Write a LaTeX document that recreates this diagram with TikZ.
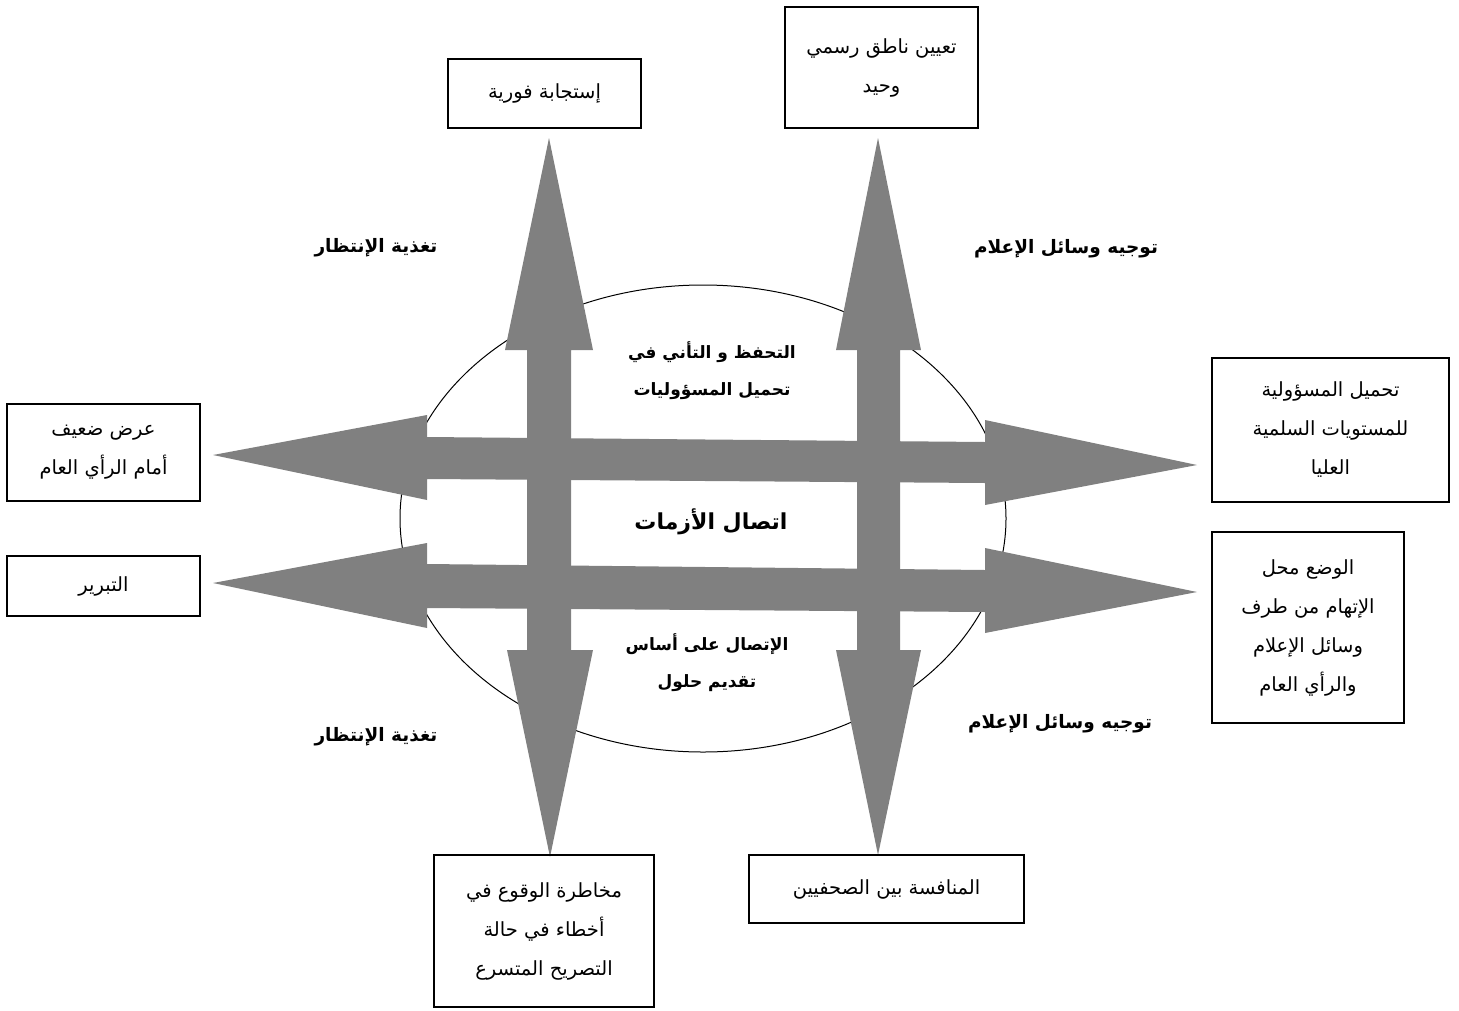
\documentclass[tikz,border=0pt]{standalone}
\usepackage{fontspec}
\usetikzlibrary{shapes.geometric}
\TeXXeTstate=1
\newfontfamily\arabicfont[Script=Arabic]{DejaVu Sans}
\newcommand{\ar}[1]{{\arabicfont\beginR #1\endR}}
\definecolor{arrowgray}{HTML}{808080}
\begin{document}
\begin{tikzpicture}[x=1pt,y=-1pt,
  box/.style={draw, line width=1.4pt, align=center, inner sep=0pt,
              font=\fontsize{19.5}{39}\selectfont},
  bigarrow/.style={fill=arrowgray, draw=none},
  lbl/.style={align=center, inner sep=0pt, font=\fontsize{18.5}{37}\selectfont\bfseries},
  inlbl/.style={align=center, inner sep=0pt, font=\fontsize{17}{37}\selectfont\bfseries},
  ring/.style={draw, line width=1pt, ellipse, inner sep=0pt}
]
\useasboundingbox (0,0) rectangle (1459,1010);

% central ellipse
\node[ring, minimum width=606, minimum height=467] (ell) at (703,518.5) {};

% big block arrows
\fill[bigarrow] (549,138) -- (593,350) -- (571,350) -- (571,650) -- (593,650)
  -- (550,857) -- (507,650) -- (527,650) -- (527,350) -- (505,350) -- cycle;
\fill[bigarrow] (878,138) -- (921,350) -- (900,350) -- (900,650) -- (921,650)
  -- (878,855) -- (836,650) -- (857,650) -- (857,350) -- (836,350) -- cycle;
\fill[bigarrow] (213,455) -- (427,415) -- (427,437) -- (985,442) -- (985,420)
  -- (1197,465) -- (985,505) -- (985,483) -- (427,479) -- (427,500) -- cycle;
\fill[bigarrow] (213,583) -- (427,543) -- (427,564) -- (985,570) -- (985,548)
  -- (1197,592) -- (985,633) -- (985,612) -- (427,608) -- (427,628) -- cycle;

% central texts
\node[inlbl] (top) at (712,371) {\ar{التحفظ و التأني في}\\\ar{تحميل المسؤوليات}};
\node[inlbl, font=\fontsize{22}{24}\selectfont\bfseries] (title) at (711,522) {\ar{اتصال الأزمات}};
\node[inlbl] (bottom) at (707,663) {\ar{الإتصال على أساس}\\\ar{تقديم حلول}};

% side labels
\node[lbl] (l1) at (376,248) {\ar{تغذية الإنتظار}};
\node[lbl] (l2) at (1066,249) {\ar{توجيه وسائل الإعلام}};
\node[lbl] (l3) at (376,737) {\ar{تغذية الإنتظار}};
\node[lbl] (l4) at (1060,724) {\ar{توجيه وسائل الإعلام}};

% boxes
\node[box, minimum width=193, minimum height=69] (b1) at (544.5,93.5)
  {\ar{إستجابة فورية}};
\node[box, minimum width=193, minimum height=121] (b2) at (881.5,67.5)
  {\ar{تعيين ناطق رسمي}\\\ar{وحيد}};
\node[box, minimum width=193, minimum height=97] (b3) at (103.5,452.5)
  {\ar{عرض ضعيف}\\\ar{أمام الرأي العام}};
\node[box, minimum width=193, minimum height=60] (b4) at (103.5,586)
  {\ar{التبرير}};
\node[box, minimum width=237, minimum height=144] (b5) at (1330.5,430)
  {\ar{تحميل المسؤولية}\\\ar{للمستويات السلمية}\\\ar{العليا}};
\node[box, minimum width=192, minimum height=191] (b6) at (1308,627.5)
  {\ar{الوضع محل}\\\ar{الإتهام من طرف}\\\ar{وسائل الإعلام}\\\ar{والرأي العام}};
\node[box, minimum width=220, minimum height=152] (b7) at (544,931)
  {\ar{مخاطرة الوقوع في}\\\ar{أخطاء في حالة}\\\ar{التصريح المتسرع}};
\node[box, minimum width=275, minimum height=68] (b8) at (886.5,889)
  {\ar{المنافسة بين الصحفيين}};
\end{tikzpicture}
\end{document}
